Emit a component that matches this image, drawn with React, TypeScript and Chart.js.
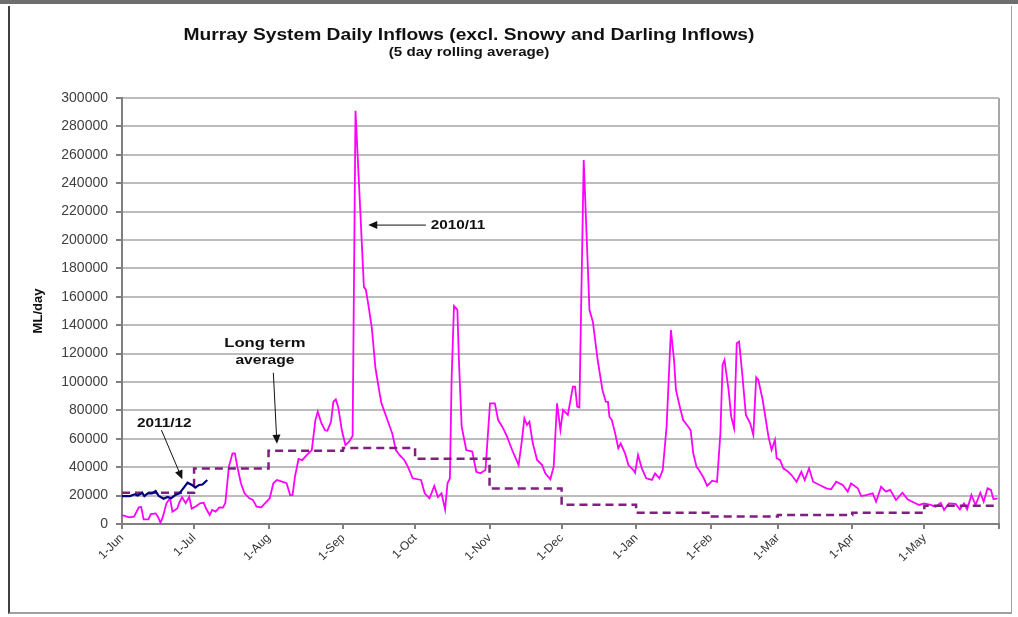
import React, { useEffect, useRef } from 'react';
import { Chart, registerables } from 'chart.js';

Chart.register(...registerables);

// X axis: day index from 1 June (0) to 1 June next year (365)
const monthStartDays = [0, 30, 61, 92, 122, 153, 183, 214, 245, 273, 304, 334, 365];
const monthLabels = ['1-Jun', '1-Jul', '1-Aug', '1-Sep', '1-Oct', '1-Nov', '1-Dec', '1-Jan', '1-Feb', '1-Mar', '1-Apr', '1-May', ''];

const yTickValues = [0, 20000, 40000, 60000, 80000, 100000, 120000, 140000, 160000, 180000, 200000, 220000, 240000, 260000, 280000, 300000];

// Long term average (monthly steps)
const averageDays = [0, 30, 61, 92, 122, 153, 183, 214, 245, 273, 304, 334, 365];
const longTermAverage = [22000, 39000, 51500, 53500, 46000, 25000, 13500, 8000, 5200, 6300, 8000, 12900, 12900];

// 2011/12 inflows
const days2011 = [0, 3.3, 5.3, 6.5, 8.4, 9.3, 10.7, 12.5, 14, 15.3, 17.3, 19, 20.4, 22.2, 23.9, 25.5, 27.3, 29.1, 30.5, 32.1, 33.5, 35.5];
const inflow2011 = [19700, 19700, 20900, 20000, 22000, 19700, 21600, 21600, 23200, 19700, 17800, 19000, 18100, 20400, 21600, 25100, 29100, 27500, 25600, 27500, 27800, 31000];

// 2010/11 inflows
const days2010 = [
  0, 3, 5, 7, 8, 9, 11, 12, 14, 15,
  16, 17, 18.5, 20, 21, 23, 24, 25, 26.5, 28,
  29, 31, 32.5, 34, 35, 36.5, 37.5, 39, 40.5, 42,
  43, 44.5, 46, 47, 48, 49.5, 51, 53, 54.5, 56,
  58, 59.5, 61.5, 63, 64.5, 66, 68.5, 70, 71, 72,
  73.5, 75, 77, 79, 80.5, 81.5, 83, 84.5, 85.5, 87,
  88, 89, 90, 91.5, 93, 94.5, 96, 97.2, 100.7, 101.5,
  102.5, 104, 105.5, 107, 108, 110.5, 112.5, 114, 115.5, 117.5,
  119, 121, 124.5, 126, 128, 130, 131.5, 133, 134.5, 135.5,
  136.5, 137.2, 138.2, 139.6, 140.3, 141.4, 143.3, 145.8, 147.5, 149.2,
  151.3, 153.2, 155.2, 156.6, 158.3, 160.3, 162.4, 165.1, 166.5, 167.5,
  168.6, 169.6, 171, 172.8, 174.9, 176.2, 178.3, 179.7, 181.1, 182.5,
  183.6, 185.6, 187.7, 188.6, 189.5, 190.4, 192.2, 194.6, 196, 198,
  200, 201.4, 202.3, 202.9, 203.9, 205.3, 206.6, 207.6, 209.4, 210.8,
  212.9, 213.6, 214.8, 216.4, 218.2, 220.6, 221.9, 223.7, 225.1, 226.7,
  228.5, 229.8, 230.6, 232.2, 233.6, 235.7, 236.7, 237.8, 239.2, 240.2,
  242.2, 243.6, 245.7, 247.7, 249.1, 250, 250.8, 252.5, 253.6, 254.8,
  255.9, 256.9, 258.3, 259.7, 261.5, 262.8, 264, 264.9, 266.7, 269.1,
  270.4, 271.8, 272.5, 273.9, 275.3, 277.3, 278.7, 280.8, 282.8, 284.2,
  286, 287.7, 290.4, 293.2, 295.2, 297.3, 300, 302.1, 303.5, 306.3,
  307.7, 309.7, 312.5, 313.9, 316, 318, 319.8, 322.2, 324.9, 327,
  329, 331.8, 333.9, 336.6, 338.7, 340.8, 342.2, 344.2, 347, 348.8,
  350.5, 351.8, 353.6, 355.3, 357.3, 358.7, 360.3, 361.7, 362.8, 364.5,
];
const inflow2010 = [
  6300, 4700, 5100, 11700, 12000, 3300, 3300, 7000, 7500, 5000,
  900, 5000, 14600, 18100, 8700, 10900, 15700, 18800, 14600, 19200,
  10900, 12700, 14600, 15000, 10900, 6300, 9900, 8700, 11700, 11500,
  14600, 40400, 49800, 49800, 40400, 28700, 21600, 18100, 17000, 12200,
  11700, 14600, 18100, 28700, 31000, 30200, 28700, 20400, 20400, 33300,
  45800, 45000, 48600, 52100, 73200, 79100, 71000, 66000, 65700, 72000,
  86100, 87700, 82500, 66200, 55600, 57900, 62000, 291000, 167000, 165000,
  155000, 138000, 110000, 94400, 85000, 73200, 63800, 52100, 48600, 45100,
  40400, 32200, 31000, 21600, 18100, 26800, 19000, 21600, 10300, 28700,
  32200, 101400, 153500, 151000, 113200, 68500, 52100, 51000, 36800, 35700,
  38000, 85000, 85000, 73200, 68500, 61500, 52100, 41500, 59200, 74400,
  69700, 72000, 56800, 45100, 41500, 35700, 31500, 40400, 85000, 66200,
  80300, 76800, 96700, 96700, 82600, 82000, 256300, 150700, 142500, 115500,
  94400, 86100, 86000, 75600, 73200, 63800, 53300, 56800, 49800, 41500,
  38000, 36100, 48600, 39200, 32200, 31000, 35700, 32200, 38000, 68500,
  136600, 115500, 94400, 82600, 73200, 68500, 66200, 49800, 40000, 38000,
  32200, 26800, 30500, 29700, 63800, 112000, 115500, 94400, 75600, 67400,
  127300, 128400, 103700, 76800, 70900, 62700, 103300, 101400, 87300, 61500,
  52100, 59200, 46300, 45100, 39200, 36800, 34500, 29800, 36800, 31000,
  39200, 29800, 27500, 25100, 24400, 29800, 27500, 22800, 28600, 25100,
  19700, 20400, 21600, 15700, 26300, 22800, 24000, 16900, 22000, 17400,
  15700, 13400, 14500, 13400, 12200, 14900, 9900, 14500, 14100, 10300,
  14500, 10300, 20400, 13400, 22000, 15700, 25100, 24000, 17400, 18000,
];

const chartTitle = 'Murray System Daily Inflows (excl. Snowy and Darling Inflows)';
const chartSubtitle = '(5 day rolling average)';

const FONT = 'Arial, "Liberation Sans", sans-serif';

function drawArrow(ctx: CanvasRenderingContext2D, x1: number, y1: number, x2: number, y2: number) {
  const ang = Math.atan2(y2 - y1, x2 - x1);
  const len = 9;
  const hw = 4;
  ctx.beginPath();
  ctx.moveTo(x1, y1);
  ctx.lineTo(x2 - Math.cos(ang) * (len - 1), y2 - Math.sin(ang) * (len - 1));
  ctx.strokeStyle = '#111';
  ctx.lineWidth = 1;
  ctx.stroke();
  ctx.beginPath();
  ctx.moveTo(x2, y2);
  ctx.lineTo(x2 - Math.cos(ang) * len - Math.sin(ang) * hw, y2 - Math.sin(ang) * len + Math.cos(ang) * hw);
  ctx.lineTo(x2 - Math.cos(ang) * len + Math.sin(ang) * hw, y2 - Math.sin(ang) * len - Math.cos(ang) * hw);
  ctx.closePath();
  ctx.fillStyle = '#111';
  ctx.fill();
}

function drawText(ctx: CanvasRenderingContext2D, text: string, x: number, y: number, font: string, align: CanvasTextAlign, sx: number) {
  ctx.save();
  ctx.font = font;
  ctx.textAlign = align;
  ctx.textBaseline = 'middle';
  ctx.fillStyle = '#111';
  ctx.translate(x, y);
  ctx.scale(sx, 1);
  ctx.fillText(text, 0, 0);
  ctx.restore();
}

const overlayPlugin = {
  id: 'overlay',
  afterDraw(chart: any) {
    const { ctx, scales } = chart;
    const x = scales.x;
    const y = scales.y;
    const px = (d: number) => x.getPixelForValue(d);
    const py = (v: number) => y.getPixelForValue(v);
    ctx.save();
    // titles
    drawText(ctx, chartTitle, 459, 30, `bold 16px ${FONT}`, 'center', 1.2);
    drawText(ctx, chartSubtitle, 459, 47, `bold 12px ${FONT}`, 'center', 1.26);

    // 2010/11 annotation
    drawText(ctx, '2010/11', px(128.5), py(210500), `bold 13px ${FONT}`, 'left', 1.18);
    drawArrow(ctx, px(126.5), py(210500), px(102.5), py(210500));

    // 2011/12 annotation
    drawText(ctx, '2011/12', px(6.2), py(70500), `bold 13px ${FONT}`, 'left', 1.18);
    drawArrow(ctx, px(16.4), py(66200), px(25.1), py(31500));

    // Long term average annotation
    drawText(ctx, 'Long term', px(59.5), py(127000), `bold 13px ${FONT}`, 'center', 1.28);
    drawText(ctx, 'average', px(59.5), py(115500), `bold 13px ${FONT}`, 'center', 1.2);
    drawArrow(ctx, px(63), py(106500), px(64.5), py(56500));
    ctx.restore();
  },
};

export default function App() {
  const canvasRef = useRef<HTMLCanvasElement | null>(null);

  useEffect(() => {
    if (!canvasRef.current) return;
    const chart = new Chart(canvasRef.current, {
      type: 'line',
      data: {
        datasets: [
          {
            label: '2011/12',
            data: days2011.map((d, i) => ({ x: d, y: inflow2011[i] })),
            borderColor: '#000080',
            borderWidth: 2.2,
            pointRadius: 0,
            tension: 0,
            order: 1,
          },
          {
            label: 'Long term average',
            data: averageDays.map((d, i) => ({ x: d, y: longTermAverage[i] })),
            borderColor: '#7f1f7f',
            borderWidth: 2.5,
            borderDash: [8, 5],
            pointRadius: 0,
            stepped: true,
            order: 2,
          },
          {
            label: '2010/11',
            data: days2010.map((d, i) => ({ x: d, y: inflow2010[i] })),
            borderColor: '#ff00ff',
            borderWidth: 1.8,
            pointRadius: 0,
            tension: 0,
            order: 3,
          },
        ],
      },
      options: {
        animation: false,
        responsive: false,
        devicePixelRatio: 1,
        layout: { padding: { top: 92, right: 8, left: 0, bottom: 0 } },
        plugins: {
          legend: { display: false },
          title: { display: false },
          tooltip: { enabled: false },
        },
        scales: {
          x: {
            type: 'linear',
            min: 0,
            max: 365,
            afterBuildTicks: (s: any) => {
              s.ticks = monthStartDays.map((v) => ({ value: v }));
            },
            afterFit: (s: any) => {
              s.height = 88;
            },
            ticks: {
              autoSkip: false,
              maxRotation: 45,
              minRotation: 45,
              padding: 2,
              color: '#333',
              font: { family: FONT, size: 12 },
              callback: (_v: any, i: number) => monthLabels[i] ?? '',
            },
            grid: {
              drawOnChartArea: true,
              color: (c: any) => (c.tick && c.tick.value === 365 ? '#a8a8a8' : 'rgba(0,0,0,0)'),
              lineWidth: 2,
              tickColor: '#808080',
              tickLength: 5,
            },
            border: { color: '#808080', width: 2 },
          },
          y: {
            min: 0,
            max: 300000,
            afterBuildTicks: (s: any) => {
              s.ticks = yTickValues.map((v) => ({ value: v }));
            },
            afterFit: (s: any) => {
              s.width = 112;
            },
            ticks: {
              padding: 8,
              color: '#404040',
              font: { family: FONT, size: 14 },
              callback: (v: any) => String(v),
            },
            grid: {
              color: '#bcbcbc',
              lineWidth: 2,
              tickColor: '#808080',
              tickLength: 6,
            },
            border: { color: '#808080', width: 2 },
            title: {
              display: true,
              text: 'ML/day',
              color: '#111',
              font: { family: FONT, size: 13, weight: 'bold' },
              padding: { top: 21, bottom: 0 },
            },
          },
        },
      },
      plugins: [overlayPlugin],
    } as any);
    return () => chart.destroy();
  }, []);

  return (
    <div style={{ position: 'fixed', left: 0, top: 0, width: 1018, height: 617, background: '#fff' }}>
      <div style={{ position: 'absolute', left: 0, top: 0, width: 1018, height: 4, background: '#6e6e6e' }} />
      <div
        style={{
          position: 'absolute',
          left: 8,
          top: 6,
          width: 1004,
          height: 608,
          boxSizing: 'border-box',
          borderLeft: '2px solid #404040',
          borderRight: '1px solid #a0a0a0',
          borderBottom: '2px solid #a0a0a0',
        }}
      >
        <canvas ref={canvasRef} width={1001} height={606} style={{ display: 'block', width: 1001, height: 606 }} />
      </div>
    </div>
  );
}
